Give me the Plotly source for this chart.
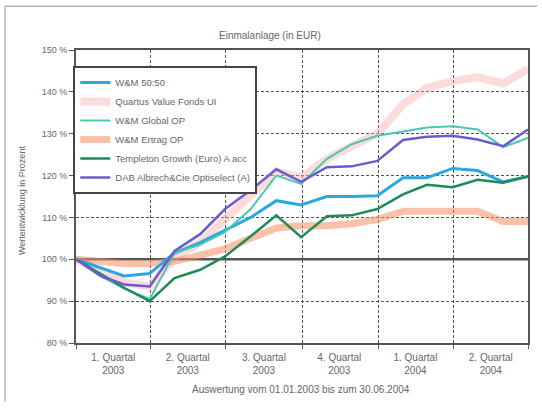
import plotly.graph_objects as go

# Monthly valuation dates, 01.01.2003 - 30.06.2004
dates = ["2003-01-01", "2003-01-31", "2003-02-28", "2003-03-31", "2003-04-30",
         "2003-05-31", "2003-06-30", "2003-07-31", "2003-08-31", "2003-09-30",
         "2003-10-31", "2003-11-30", "2003-12-31", "2004-01-31", "2004-02-29",
         "2004-03-31", "2004-04-30", "2004-05-31", "2004-06-30"]

# Performance in percent (start = 100 %)
wm_5050 = [100, 98, 96, 96.6, 101.5, 104, 107, 110, 114, 113, 115, 115, 115.2,
           119.5, 119.5, 121.7, 121.2, 118.5, 119.8]
quartus = [100, 97, 94.5, 93.5, 100.5, 104, 109.5, 115.5, 121, 119.5, 124, 127,
           130, 137, 141, 142.5, 143.5, 142, 145.5]
wm_global = [100, 96, 93, 90.5, 101.5, 103.5, 106.5, 112, 120, 118, 124, 127.5,
             129.5, 130.5, 131.5, 131.8, 131, 126.8, 129]
wm_ertrag = [100, 99.5, 99, 99, 99.5, 101, 102.5, 105, 107.5, 108, 108, 108.5,
             109.5, 111.5, 111.5, 111.5, 111.5, 109, 109]
templeton = [100, 96.5, 93.2, 90, 95.5, 97.5, 100.7, 105.5, 110.5, 105.3, 110.3,
             110.5, 112, 115.5, 117.8, 117.2, 119, 118.3, 119.8]
dab_opti = [100, 96, 94, 93.5, 102, 106, 112, 116.5, 121.5, 118.5, 122, 122.2,
            123.5, 128.5, 129.3, 129.5, 128.6, 127, 131]

# Quarter boundaries (grid) and quarter centres (labels)
quarter_edges = ["2003-01-01", "2003-04-01", "2003-07-01", "2003-10-01",
                 "2004-01-01", "2004-04-01", "2004-06-30"]
quarter_mids = ["2003-02-15", "2003-05-16", "2003-08-16", "2003-11-15",
                "2004-02-15", "2004-05-16"]
quarter_labels = ["1. Quartal<br>2003", "2. Quartal<br>2003", "3. Quartal<br>2003",
                  "4. Quartal<br>2003", "1. Quartal<br>2004", "2. Quartal<br>2004"]
y_ticks = [80, 90, 100, 110, 120, 130, 140, 150]
y_tick_text = [f"{v} %" for v in y_ticks]

FONT = "Liberation Sans, Arial, sans-serif"
TXT = "#666666"
GRID = "#555555"

series = [
    # name, values, colour, width, legend rank (wide bands drawn first)
    ("Quartus Value Fonds UI", quartus, "rgba(247,170,170,0.42)", 8, 2),
    ("W&M Ertrag OP", wm_ertrag, "rgba(247,140,100,0.55)", 7, 4),
    ("W&M 50:50", wm_5050, "#2aa8e0", 3, 1),
    ("W&M Global OP", wm_global, "#4cc8b2", 2, 3),
    ("Templeton Growth (Euro) A acc", templeton, "#1f8a55", 2.5, 5),
    ("DAB Albrech&Cie Optiselect (A)", dab_opti, "#6a5ccc", 2.5, 6),
]

fig = go.Figure()
for name, vals, color, width, rank in series:
    fig.add_trace(go.Scatter(
        x=dates, y=vals, mode="lines", name=name, legendrank=rank,
        line=dict(color=color, width=width),
    ))

fig.update_layout(
    width=542, height=417,
    margin=dict(l=76, r=14, t=50, b=74),
    paper_bgcolor="white", plot_bgcolor="white",
    font=dict(family=FONT, size=10, color=TXT),
    showlegend=True,
    legend=dict(
        x=-0.006, y=0.945, xanchor="left", yanchor="top",
        bgcolor="white", bordercolor="#444444", borderwidth=2,
        font=dict(size=9.5, color=TXT), itemwidth=30,
        tracegroupgap=0,
    ),
    xaxis=dict(
        type="date", range=["2003-01-01", "2004-06-30"],
        tickvals=quarter_mids, ticktext=quarter_labels,
        ticks="outside", ticklen=4, tickcolor="rgba(0,0,0,0)",
        showgrid=False, zeroline=False,
        showline=True, linecolor=GRID, linewidth=2, mirror=True,
        tickfont=dict(size=10, color=TXT),
        minor=dict(tickvals=quarter_edges, showgrid=True, gridcolor=GRID,
                   griddash="3px,2px", gridwidth=1, ticks="outside", ticklen=4,
                   tickcolor=GRID),
    ),
    yaxis=dict(
        range=[80, 150], tickvals=y_ticks, ticktext=y_tick_text,
        ticks="outside", ticklen=5, tickcolor=GRID,
        showgrid=True, gridcolor=GRID, griddash="3px,2px", gridwidth=1,
        zeroline=False,
        showline=True, linecolor=GRID, linewidth=2, mirror=True,
        tickfont=dict(size=9, color=TXT),
    ),
    shapes=[
        # 100 % baseline
        dict(type="line", xref="paper", yref="y", x0=0, x1=1, y0=100, y1=100,
             line=dict(color=GRID, width=2.5), layer="below"),
        # outer frame
        dict(type="line", xref="paper", yref="paper", x0=-0.157, x1=-0.157,
             y0=-0.2, y1=1.149, line=dict(color="#b5b5b5", width=1.5)),
        dict(type="line", xref="paper", yref="paper", x0=-0.157, x1=1.02,
             y0=1.149, y1=1.149, line=dict(color="#b5b5b5", width=1.5)),
    ],
    annotations=[
        dict(text="Einmalanlage (in EUR)", xref="paper", yref="paper",
             x=0.429, y=1.051, showarrow=False, xanchor="center",
             yanchor="middle", font=dict(size=10, color=TXT)),
        dict(text="Wertentwicklung in Prozent", xref="paper", yref="paper",
             x=-0.1195, y=0.488, showarrow=False, textangle=-90,
             xanchor="center", yanchor="middle", font=dict(size=9, color=TXT)),
        dict(text="Auswertung vom 01.01.2003 bis zum 30.06.2004", xref="paper",
             yref="paper", x=0.498, y=-0.16, showarrow=False,
             xanchor="center", yanchor="middle", font=dict(size=10, color=TXT)),
    ],
)

fig.write_html("out.html")
